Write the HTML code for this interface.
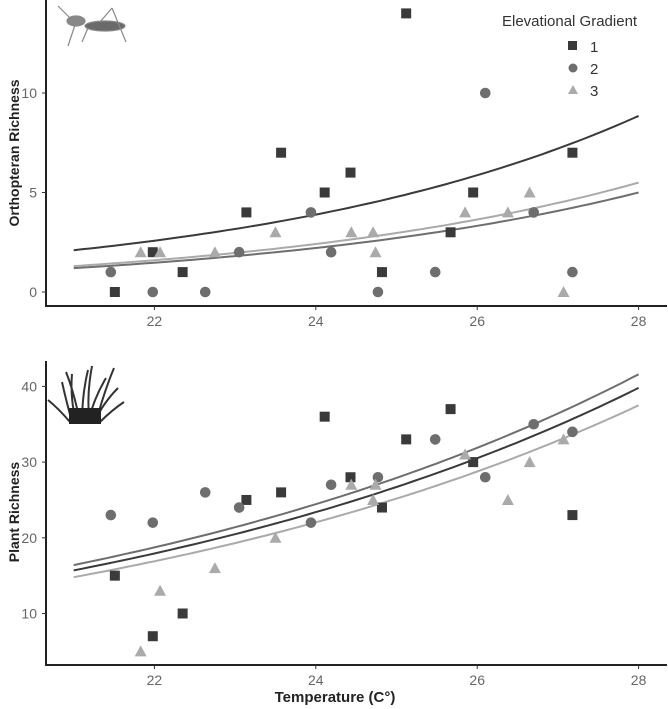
<!DOCTYPE html>
<html><head><meta charset="utf-8"><style>
body{margin:0;background:#fff}
svg{display:block;font-family:"Liberation Sans",sans-serif}
</style></head><body>
<svg id="chart" width="668" height="709" viewBox="0 0 668 709">
<g fill="#777" stroke="#888" stroke-width="1.2">
<ellipse cx="105" cy="26" rx="20" ry="5" fill="#6a6a6a"/>
<ellipse cx="76" cy="21" rx="9" ry="5" fill="#888"/>
<line x1="100" y1="22" x2="112" y2="8" fill="none"/><line x1="112" y1="8" x2="126" y2="42" fill="none"/>
<line x1="75" y1="25" x2="68" y2="46" fill="none"/><line x1="88" y1="28" x2="82" y2="42" fill="none"/>
<line x1="70" y1="18" x2="58" y2="6" fill="none"/>
</g>
<g stroke="#333" stroke-width="2" fill="none">
<path d="M72 422 Q66 400 62 382 M76 422 Q70 398 72 374 M82 422 Q82 395 88 370 M88 422 Q94 398 106 378 M94 422 Q104 402 118 388 M100 422 Q112 410 124 402 M70 422 Q58 408 48 400 M96 422 Q104 392 114 368 M80 422 Q74 392 66 372 M90 422 Q86 398 92 366"/>
<rect x="69" y="408" width="32" height="16" fill="#222" stroke="none"/>
</g>
<g id="top"></g>
<g id="bot"></g>
<text x="502" y="26" font-size="15" fill="#333">Elevational Gradient</text>
<g>
<rect x="568" y="41" width="9" height="9" fill="#3a3a3a"/>
<text x="590" y="52" font-size="15" fill="#333">1</text>
<circle cx="573" cy="68" r="4.5" fill="#6e6e6e"/>
<text x="590" y="74" font-size="15" fill="#333">2</text>
<path d="M568 94 L578 94 L573 85 Z" fill="#aaa"/>
<text x="590" y="96" font-size="15" fill="#333">3</text>
</g>
<text x="335" y="702" text-anchor="middle" font-size="15" font-weight="bold" fill="#222">Temperature (C°)</text>
<text transform="translate(19,153) rotate(-90)" text-anchor="middle" font-size="14" font-weight="bold" fill="#222">Orthopteran Richness</text>
<text transform="translate(19,512) rotate(-90)" text-anchor="middle" font-size="14" font-weight="bold" fill="#222">Plant Richness</text>
</svg>
<script>
const xTicks=[22,24,26,28];
const temp1=[21.51,21.98,22.35,23.14,23.57,24.11,24.43,24.82,25.12,25.67,25.95,27.18];
const temp2=[21.46,21.98,22.63,23.05,23.94,24.19,24.77,25.48,26.10,26.70,27.18];
const temp3=[21.83,22.07,22.75,23.50,24.44,24.71,24.74,25.85,26.38,26.65,27.07];
const orth1=[0,2,1,4,7,5,6,1,14,3,5,7];
const orth2=[1,0,0,2,4,2,0,1,10,4,1];
const orth3=[2,2,2,3,3,3,2,4,4,5,0];
const plant1=[15,7,10,25,26,36,28,24,33,37,30,23];
const plant2=[23,22,26,24,22,27,28,33,28,35,34];
const plant3=[5,13,16,20,27,25,27,31,25,30,33];
const orthTicks=[0,5,10];
const plantTicks=[10,20,30,40];
// fitted curve values at T=21 and T=28 (exponential)
const orthFitStart=[2.1,1.2,1.3], orthFitEnd=[8.85,5.0,5.5];
const plantFitStart=[15.7,16.4,14.8], plantFitEnd=[39.8,41.6,37.5];
const NS="http://www.w3.org/2000/svg";
const cols=["#3a3a3a","#6e6e6e","#aaaaaa"];
const X=t=>154.4+(t-22)*80.7;
function mk(tag,attrs,parent){const e=document.createElementNS(NS,tag);for(const k in attrs)e.setAttribute(k,attrs[k]);parent.appendChild(e);return e;}
function panel(g,Y,yt,axTop,axBot,series,fs,fe,name,lineOrder){
  let e=mk('line',{x1:46,y1:axTop,x2:46,y2:axBot,stroke:'#222','stroke-width':2},g);
  
  e=mk('line',{x1:45,y1:axBot,x2:667,y2:axBot,stroke:'#222','stroke-width':2},g);
  
  yt.forEach(v=>{e=mk('text',{x:37,y:Y(v)+5,'text-anchor':'end','font-size':14,fill:'#666'},g);e.textContent=v;
    
    e=mk('line',{x1:42,y1:Y(v),x2:46,y2:Y(v),stroke:'#333'},g);});
  xTicks.forEach(v=>{e=mk('text',{x:X(v),y:axBot+20,'text-anchor':'middle','font-size':14,fill:'#666'},g);e.textContent=v;
    
    e=mk('line',{x1:X(v),y1:axBot,x2:X(v),y2:axBot+4,stroke:'#333'},g);});
  lineOrder.forEach(i=>{const b=Math.log(fe[i]/fs[i])/7;let d='';
    for(let k=0;k<=70;k++){const t=21+k*0.1;d+=(k?'L':'M')+X(t).toFixed(1)+' '+Y(fs[i]*Math.exp(b*(t-21))).toFixed(1);}
    e=mk('path',{d:d,fill:'none',stroke:cols[i],'stroke-width':2},g);
    });
  series.forEach((s,i)=>{s[0].forEach((t,j)=>{const x=X(t),y=Y(s[1][j]);
    if(i===0)e=mk('rect',{x:x-5,y:y-5,width:10,height:10,fill:cols[0]},g);
    else if(i===1)e=mk('circle',{cx:x,cy:y,r:5.3,fill:cols[1]},g);
    else e=mk('path',{d:`M${x-6} ${y+5}L${x+6} ${y+5}L${x} ${y-6}Z`,fill:cols[2]},g);
    });});
}
const Yt=v=>292-v*19.9, Yb=v=>613.5-(v-10)*7.57;
panel(document.getElementById('top'),Yt,orthTicks,0,306,[[temp1,orth1],[temp2,orth2],[temp3,orth3]],orthFitStart,orthFitEnd,'orthopteran',[0,1,2]);
panel(document.getElementById('bot'),Yb,plantTicks,361,665,[[temp1,plant1],[temp2,plant2],[temp3,plant3]],plantFitStart,plantFitEnd,'plant',[0,1,2]);
</script>
</body></html>
